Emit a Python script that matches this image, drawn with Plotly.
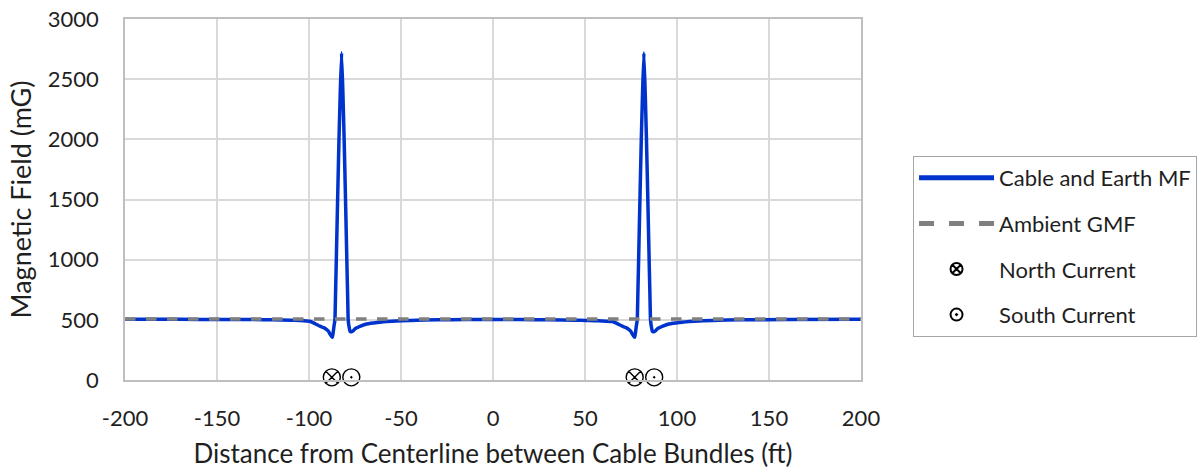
import plotly.graph_objects as go

# Cable and Earth MF profile
left_x = [-200, -170, -150, -130, -120, -110, -105, -99.5, -97, -94,
          -92, -90.4, -89.4, -88.7, -88.0, -87.3, -86.9, -86.4, -85.9, -85.6,
          -85.3, -84.8, -84.3, -83.7, -83.0, -82.3, -81.6, -80.9, -80.3, -79.8,
          -79.3, -79.0, -78.7, -78.2, -77.7, -77.2, -76.6, -75.8, -75.0, -72.0,
          -68.7, -63.0, -55.0, -45.0, -30, -15, 0]
left_y = [504, 504, 503, 502, 500, 497, 495, 488, 470, 447,
          435, 419, 405, 385, 368, 355, 390, 450, 500, 700,
          900, 1250, 1600, 2000, 2400, 2720, 2400, 2000, 1600, 1250,
          900, 700, 500, 440, 405, 400, 403, 412, 425, 447,
          465, 478, 488, 495, 500, 502, 503]
right_x = [0, 15, 30, 45, 50, 55, 59.3, 64.8, 67.3, 70.3,
           72.3, 73.9, 74.9, 75.6, 76.3, 77.0, 77.4, 77.9, 78.4, 78.7,
           79.0, 79.5, 80.0, 80.6, 81.3, 82.0, 82.7, 83.4, 84.0, 84.5,
           85.0, 85.3, 85.6, 86.1, 86.6, 87.1, 87.7, 88.5, 89.3, 92.3,
           95.6, 101.3, 109.3, 119.3, 134.3, 160, 200]
right_y = [503, 502, 500, 497, 495, 493, 491, 486, 470, 447,
           435, 419, 405, 385, 368, 355, 390, 450, 500, 700,
           900, 1250, 1600, 2000, 2400, 2720, 2400, 2000, 1600, 1250,
           900, 700, 500, 440, 405, 400, 403, 412, 425, 447,
           465, 478, 488, 495, 500, 502, 504]
mf_x = left_x + right_x[1:]
mf_y = left_y + right_y[1:]

# Ambient geomagnetic field
gmf_x = [-200, 200]
gmf_y = [507, 507]

# Cable current positions
north_x = [-87.6, 77.0]
south_x = [-77.0, 87.6]
current_y = [22, 22]

x_ticks = [-200, -150, -100, -50, 0, 50, 100, 150, 200]
x_labels = ["-200", "-150", "-100", "-50", "0", "50", "100", "150", "200"]
y_ticks = [0, 500, 1000, 1500, 2000, 2500, 3000]

FONT = "Lato, 'Open Sans', sans-serif"
TXT = "#1f1f1f"

fig = go.Figure()
fig.add_trace(go.Scatter(x=mf_x, y=mf_y, mode="lines", name="Cable and Earth MF",
                         line=dict(color="#0033CC", width=3.5, shape="spline", smoothing=0.3),
                         legendgroup="a"))
fig.add_trace(go.Scatter(x=gmf_x, y=gmf_y, mode="lines", name="Ambient GMF",
                         line=dict(color="#808080", width=3.5, dash="dash"), legendgroup="b"))
fig.add_trace(go.Scatter(x=north_x, y=current_y, mode="markers", name="North Current", cliponaxis=False,
                         marker=dict(symbol="circle-x-open", size=17, color="black", line=dict(width=1.4, color="black")),
                         legendgroup="c"))
fig.add_trace(go.Scatter(x=south_x, y=current_y, mode="markers", name="South Current", cliponaxis=False,
                         marker=dict(symbol="circle-open-dot", size=17, color="black", line=dict(width=1.4, color="black")),
                         legendgroup="d"))

fig.update_layout(
    width=1201, height=474,
    margin=dict(l=125, r=340, t=19, b=94, autoexpand=False),
    paper_bgcolor="white", plot_bgcolor="white",
    font=dict(family=FONT, size=22, color=TXT),
    showlegend=True,
    legend=dict(x=1.0707, y=0.6205, xanchor="left", yanchor="top",
                bordercolor="#a6a6a6", borderwidth=1, bgcolor="white",
                font=dict(size=22, family=FONT, color=TXT),
                itemsizing="constant", traceorder="grouped", tracegroupgap=14,
                itemwidth=75),
    xaxis=dict(range=[-200, 200], tickvals=x_ticks, ticktext=x_labels, showgrid=True,
               gridcolor="#d9d9d9", gridwidth=1.5, automargin=False,
               zeroline=False, showline=True, linecolor="#bfbfbf", linewidth=1.5, mirror=True,
               ticks="", ticklabelstandoff=18, tickfont=dict(size=22),
               title=dict(text="Distance from Centerline between Cable Bundles (ft)", font=dict(size=26), standoff=15)),
    yaxis=dict(range=[0, 3000], tickvals=y_ticks, showgrid=True, gridcolor="#d9d9d9", gridwidth=1.5,
               automargin=False,
               zeroline=False, showline=True, linecolor="#bfbfbf", linewidth=1.5, mirror=True,
               ticks="", ticklabelstandoff=20, tickfont=dict(size=22),
               title=dict(text="Magnetic Field (mG)", font=dict(size=27), standoff=8)),
)

fig.write_html("out.html", post_script="document.body.style.margin='0';",
               config={"displayModeBar": False})
